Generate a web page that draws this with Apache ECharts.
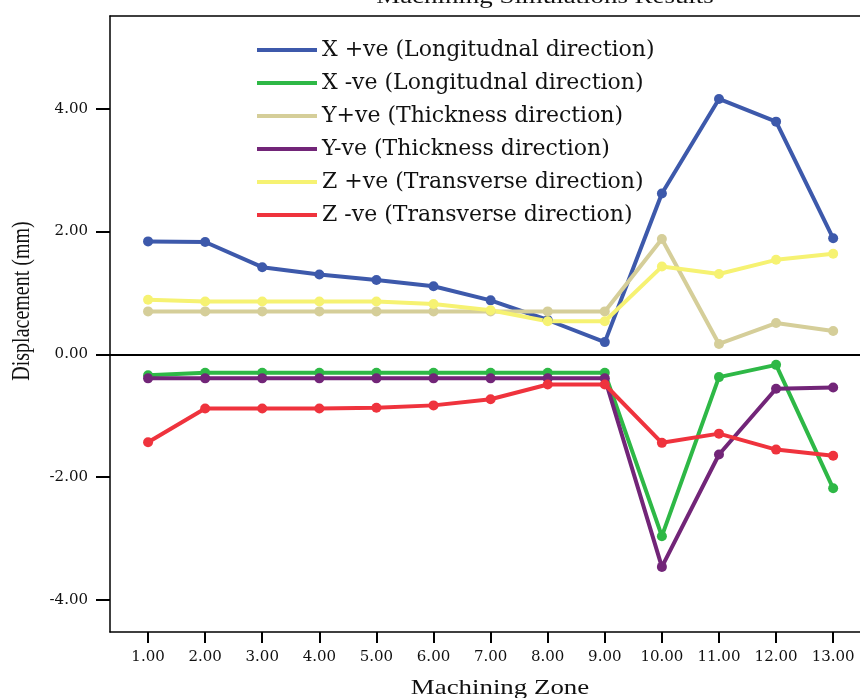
<!DOCTYPE html>
<html lang="en">
<head>
<meta charset="UTF-8">
<title>Machining Simulations Results</title>
<script src="https://cdn.jsdelivr.net/npm/echarts@6/dist/echarts.min.js"></script>
<style>
    html,body{margin:0;padding:0;background:#fff;}
    #chart{width:860px;height:698px;}
</style>
</head>
<body>
<div id="chart"></div>
<script type="text/javascript">
// zones along x
var zones = [1, 2, 3, 4, 5, 6, 7, 8, 9, 10, 11, 12, 13];
var xTicks = [1, 2, 3, 4, 5, 6, 7, 8, 9, 10, 11, 12, 13];
var yTicks = [-4, -2, 0, 2, 4];

// displacement (mm)
var xPlus  = [1.84, 1.83, 1.42, 1.30, 1.21, 1.11, 0.88, 0.56, 0.20, 2.62, 4.16, 3.79, 1.89];
var xMinus = [-0.34, -0.30, -0.30, -0.30, -0.30, -0.30, -0.30, -0.30, -0.30, -2.96, -0.37, -0.17, -2.18];
var yPlus  = [0.70, 0.70, 0.70, 0.70, 0.70, 0.70, 0.70, 0.70, 0.70, 1.88, 0.17, 0.51, 0.38];
var yMinus = [-0.39, -0.39, -0.39, -0.39, -0.39, -0.39, -0.39, -0.39, -0.39, -3.46, -1.63, -0.56, -0.54];
var zPlus  = [0.89, 0.86, 0.86, 0.86, 0.86, 0.82, 0.72, 0.54, 0.54, 1.43, 1.31, 1.54, 1.64];
var zMinus = [-1.43, -0.88, -0.88, -0.88, -0.87, -0.83, -0.73, -0.49, -0.49, -1.44, -1.29, -1.55, -1.65];

var names = [
    'X +ve (Longitudnal direction)',
    'X -ve (Longitudnal direction)',
    'Y+ve (Thickness direction)',
    'Y-ve (Thickness direction)',
    'Z +ve (Transverse direction)',
    'Z -ve (Transverse direction)'
];
var values = [xPlus, xMinus, yPlus, yMinus, zPlus, zMinus];
var colors = ['#3d59ab', '#2eb846', '#d5ce99', '#722578', '#f6f272', '#ef333d'];

var tickFont = 'DejaVu Serif';
var nameFont = 'Liberation Serif';
var xMin = 1 / 3, xMax = 13.47;

function pairs(arr) {
    return zones.map(function (z, i) { return [z, arr[i]]; });
}

var series = names.map(function (n, i) {
    var s = {
        name: n,
        type: 'line',
        data: pairs(values[i]),
        symbol: 'circle',
        symbolSize: 10,
        lineStyle: {width: 4, color: colors[i]},
        itemStyle: {color: colors[i]},
        animation: false
    };
    if (i == 0) {
        // zero reference line
        s.markLine = {
            silent: true,
            symbol: 'none',
            label: {show: false},
            lineStyle: {color: '#000', width: 2, type: 'solid'},
            data: [{yAxis: 0}]
        };
    }
    return s;
});

var option = {
    backgroundColor: '#fff',
    animation: false,
    color: colors,
    grid: {left: 110, top: 16, right: 0, bottom: 66},
    legend: {
        orient: 'vertical',
        left: 257, top: 39,
        padding: 0,
        itemGap: 11,
        itemWidth: 60,
        itemHeight: 4,
        icon: 'rect',
        data: names,
        textStyle: {fontFamily: tickFont, fontSize: 22, color: '#111', lineHeight: 22}
    },
    xAxis: [{
        type: 'value',
        min: xMin,
        max: xMax,
        splitLine: {show: false},
        axisLine: {show: true, onZero: false, lineStyle: {color: '#000', width: 1.5}},
        axisTick: {show: true, length: 11, customValues: xTicks, lineStyle: {color: '#000', width: 2}},
        axisLabel: {
            customValues: xTicks, margin: 18,
            fontFamily: tickFont, fontSize: 15, color: '#111',
            formatter: function (v) { return v.toFixed(2); }
        }
    }, {
        // top frame line only
        type: 'value',
        position: 'top',
        min: xMin,
        max: xMax,
        splitLine: {show: false},
        axisLine: {show: true, onZero: false, lineStyle: {color: '#000', width: 1.5}},
        axisTick: {show: false},
        axisLabel: {show: false}
    }],
    yAxis: {
        type: 'value',
        min: -4.52,
        max: 5.51,
        splitLine: {show: false},
        axisLine: {show: true, onZero: false, lineStyle: {color: '#000', width: 1.5}},
        axisTick: {show: true, length: 14, customValues: yTicks, lineStyle: {color: '#000', width: 2}},
        axisLabel: {
            customValues: yTicks, margin: 22,
            fontFamily: tickFont, fontSize: 15, color: '#111',
            formatter: function (v) { return v.toFixed(2); }
        }
    },
    graphic: [
        {
            type: 'text', x: 545, y: -3, scaleX: 1.28,
            style: {text: 'Machining Simulations Results', fontFamily: nameFont, fontSize: 21,
                fill: '#111', align: 'center', verticalAlign: 'middle'}
        },
        {
            type: 'text', x: 500, y: 688, scaleX: 1.28,
            style: {text: 'Machining Zone', fontFamily: nameFont, fontSize: 21,
                fill: '#111', align: 'center', verticalAlign: 'middle'}
        },
        {
            type: 'text', x: 22, y: 301, rotation: Math.PI / 2, scaleY: 1.28,
            style: {text: 'Displacement (mm)', fontFamily: nameFont, fontSize: 20,
                fill: '#111', align: 'center', verticalAlign: 'middle'}
        }
    ],
    series: series
};

var chart = echarts.init(document.getElementById('chart'));
chart.setOption(option);
</script>
</body>
</html>
